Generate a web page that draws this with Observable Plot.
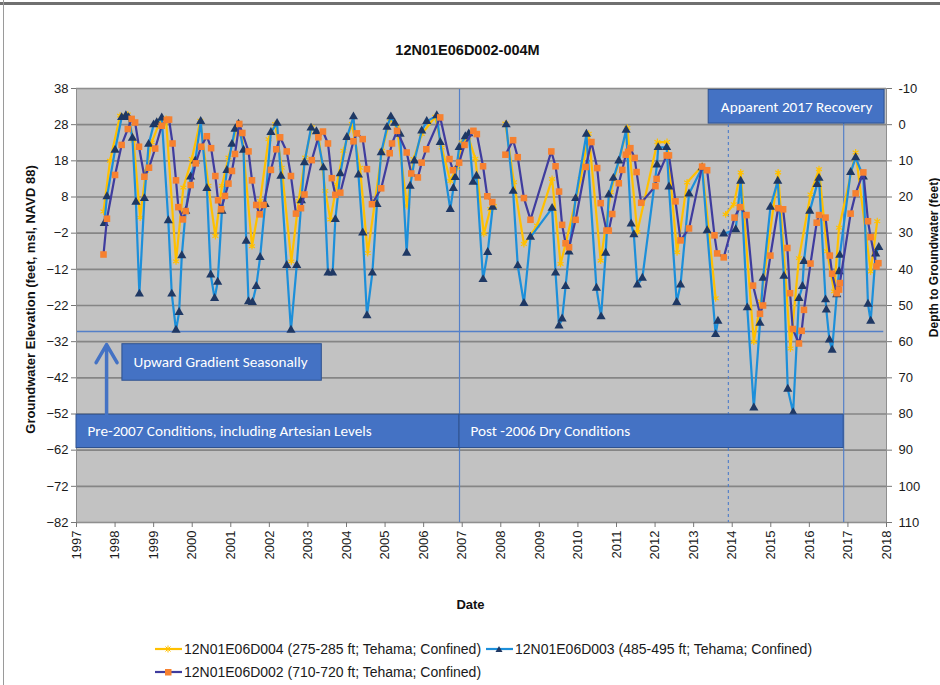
<!DOCTYPE html>
<html>
<head>
<meta charset="utf-8">
<script src="https://cdn.jsdelivr.net/npm/d3@7"></script>
<script src="https://cdn.jsdelivr.net/npm/@observablehq/plot@0.6"></script>
<style>
  html, body { margin: 0; padding: 0; background: #ffffff; }
  #page { position: relative; width: 940px; height: 685px; overflow: hidden; }
  #chart svg { display: block; }
  #legend { position: relative; width: 940px; height: 60px; font: 14px "Liberation Sans", Arial, sans-serif; color: #1a1a1a; }
  .item { position: absolute; display: flex; align-items: center; white-space: nowrap; height: 16px; }
  .item svg { margin-right: 2px; }
  .deco-top { position: absolute; left: 0; top: 2px; width: 940px; height: 3px; background: #707070; }
  .deco-left { position: absolute; left: 3px; top: 0; width: 1px; height: 685px; background: #9a9a9a; }
</style>
</head>
<body>
<div id="page">
  <div id="chart"></div>
  <div id="legend"></div>
  <div class="deco-top"></div>
  <div class="deco-left"></div>
</div>
<script>
// ---------- texts ----------
const title = "12N01E06D002-004M";
const yLabelLeft = "Groundwater Elevation (feet, msl, NAVD 88)";
const yLabelRight = "Depth to Groundwater (feet)";
const xLabel = "Date";
const seriesNames = [
  "12N01E06D004 (275-285 ft; Tehama; Confined)",
  "12N01E06D003 (485-495 ft; Tehama; Confined)",
  "12N01E06D002 (710-720 ft; Tehama; Confined)"
];

// ---------- ticks ----------
const yearTicks = [1997,1998,1999,2000,2001,2002,2003,2004,2005,2006,2007,2008,2009,2010,2011,2012,2013,2014,2015,2016,2017,2018];
const elevTicks = [-82,-72,-62,-52,-42,-32,-22,-12,-2,8,18,28,38];
const depthReference = 28; // depth to groundwater = 28 - elevation

// ---------- series: [decimal year, elevation ft]; NaN = data gap ----------
const d004 = [
  [1997.70,4],[1997.87,18],[1998.13,30.5],[1998.33,30.8],[1998.48,23.6],[1998.65,2.3],[1998.80,15.2],[1998.95,23.1],
  [1999.17,29.1],[1999.32,29.6],[1999.58,-9.8],[1999.77,10.6],[1999.99,18.5],[2000.21,29.1],[2000.42,11.1],[2000.60,-2.8],
  [2000.77,11.1],[2000.94,18.9],[2001.16,27.4],[2001.29,25.4],[2001.55,-5.6],[2001.76,6.9],[2001.98,24],[2002.15,28.2],
  [2002.32,16.1],[2002.57,-9.8],[2002.76,6.9],[2002.93,18.9],[2003.10,27.3],[2003.28,24.5],[2003.45,9.7],[2003.58,1.8],
  [2003.75,11.5],[2003.92,20.8],[2004.14,28.2],[2004.35,16.1],[2004.55,-7.5],[2004.74,6.9],[2004.92,20.8],[2005.13,29.6],
  [2005.31,27.3],[2005.57,5.5],[2005.74,18.5],[2005.95,25.4],[2006.30,30.2],[2006.47,21.7],[2006.69,12.4],[2006.86,16.1],
  [2006.99,23.1],[2007.16,24.5],[2007.34,18.6],[2007.56,-2.2],[2007.73,4.7],[2007.82,5.5],[2007.95,NaN],
  [2008.12,28.3],[2008.34,12.1],[2008.60,-5],[2008.94,0.1],[2009.33,13],[2009.55,-10.5],[2009.68,-5],[2010.07,13],
  [2010.28,25.5],[2010.59,-9.6],[2010.85,9.3],[2011.28,27.1],[2011.54,-1.7],[2012.06,23.2],[2012.31,23.2],[2012.57,-7.3],
  [2012.83,12],[2013.22,16.6],[2013.57,-20],[2013.70,NaN],
  [2013.83,3.2],[2014.04,6],[2014.22,14.8],[2014.56,-32],[2014.74,-20.9],[2015.19,14.8],[2015.51,-33.9],[2015.73,-8.9],
  [2016.03,8.7],[2016.25,15.7],[2016.46,-7],[2016.64,-18.1],[2016.77,-0.5],[2017.20,20.3],[2017.59,-12.6],[2017.76,1.3]
];
const d003 = [
  [1997.72,0.7],[1997.79,8.1],[1998.00,21],[1998.17,30],[1998.28,30.5],[1998.35,30],[1998.45,24.3],[1998.54,6.6],
  [1998.63,-18.8],[1998.76,7.6],[1998.87,22.6],[1999.00,28],[1999.08,28.6],[1999.21,29.9],[1999.38,1.5],[1999.47,-18.8],
  [1999.58,-28.8],[1999.66,-23.9],[1999.73,-8.2],[1999.83,4.1],[1999.96,13.6],[2000.08,18],[2000.22,28.9],[2000.38,10.4],
  [2000.48,-13.5],[2000.58,-20],[2000.66,-15.5],[2000.77,4.1],[2000.90,15.4],[2001.03,22.6],[2001.11,26.8],[2001.20,28.2],
  [2001.33,21],[2001.40,-4.2],[2001.46,-20.9],[2001.56,-21.1],[2001.66,-16.7],[2001.76,-8.7],[2001.89,6],[2002.04,25.9],
  [2002.20,28.4],[2002.30,13.8],[2002.45,-10.9],[2002.56,-28.8],[2002.71,-10.9],[2002.83,7],[2002.91,17.5],[2003.08,27.1],
  [2003.22,26.1],[2003.40,16.1],[2003.52,-13],[2003.64,-13],[2003.71,1.8],[2003.84,14.5],[2004.01,24.5],[2004.18,30.2],
  [2004.31,14.1],[2004.42,-1.9],[2004.53,-24.8],[2004.67,-13],[2004.79,6],[2004.90,20.3],[2005.05,27.3],[2005.15,30.2],
  [2005.25,28.4],[2005.39,25.4],[2005.56,-7.5],[2005.65,11],[2005.76,18],[2005.95,26.3],[2006.08,28.9],[2006.34,30.5],
  [2006.43,23.1],[2006.69,4.6],[2006.77,10.4],[2006.82,13.4],[2006.92,21.7],[2007.08,24.7],[2007.17,25.5],[2007.28,12.1],
  [2007.37,13.8],[2007.54,-14.8],[2007.66,-7.3],[2007.79,5.2],[2007.95,NaN],
  [2008.14,28],[2008.32,9.6],[2008.44,-11],[2008.60,-21.4],[2008.77,-3.1],[2009.33,4.9],[2009.42,-13],[2009.51,-27.6],
  [2009.59,-25.7],[2009.68,-16.7],[2009.77,-7.2],[2009.94,7.6],[2010.22,25.4],[2010.48,-17.2],[2010.60,-25.1],[2010.72,-7.5],
  [2010.80,8.6],[2010.92,13.2],[2011.06,18],[2011.25,26.5],[2011.38,0.6],[2011.45,-2.4],[2011.54,-16.3],[2011.67,-14.4],
  [2012.05,16.9],[2012.08,21.7],[2012.30,21.7],[2012.36,10.8],[2012.56,-21.1],[2012.66,-16.3],[2012.88,8.9],[2013.22,16.1],
  [2013.35,-1.3],[2013.57,-30],[2013.63,-26.3],[2013.70,NaN],
  [2013.78,-2.2],[2014.09,-1],[2014.22,12.4],[2014.39,-22.6],[2014.56,-50.3],[2014.72,-26.9],[2014.80,-14.4],[2014.99,5.2],
  [2015.18,12.4],[2015.34,-13.9],[2015.44,-45.1],[2015.58,-51.6],[2015.73,-20],[2015.82,-16.7],[2015.86,-9.8],[2016.01,4.1],
  [2016.20,11.5],[2016.25,13.2],[2016.42,-20.4],[2016.44,-23.2],[2016.52,-31.5],[2016.59,-34.3],[2016.71,-19],[2016.77,-12.6],
  [2016.79,-8.1],[2017.07,14.8],[2017.20,18.9],[2017.40,13.6],[2017.52,-21.6],[2017.59,-26.3],[2017.72,-7.7],[2017.80,-5.9]
];
const d002 = [
  [1997.70,-7.9],[1997.79,2],[1998.00,14.1],[1998.17,22.4],[1998.33,26.8],[1998.43,29.6],[1998.52,28.6],[1998.62,21.9],
  [1998.76,13.6],[1998.88,16.1],[1999.04,21.4],[1999.21,27.7],[1999.34,29.3],[1999.40,29.4],[1999.49,22.8],[1999.58,12.6],
  [1999.64,5.2],[1999.76,1.8],[1999.83,4.1],[1999.96,11.3],[2000.09,17.3],[2000.23,21.9],[2000.38,24.8],[2000.49,21.5],
  [2000.60,13.8],[2000.67,7.1],[2000.75,4.6],[2000.85,8.3],[2000.94,11.7],[2001.03,15.2],[2001.11,19.9],[2001.22,28.2],
  [2001.30,25.7],[2001.46,20.6],[2001.55,12.6],[2001.66,5.8],[2001.75,3.2],[2001.85,5.8],[2002.04,15.5],[2002.18,21.2],
  [2002.28,24.5],[2002.45,20.6],[2002.56,13.8],[2002.69,3.4],[2002.82,4.9],[2002.91,8.7],[2003.10,18.2],[2003.27,24.5],
  [2003.39,26.1],[2003.52,22.8],[2003.62,13.2],[2003.71,8.6],[2003.84,9.2],[2004.18,23.4],[2004.27,25.6],[2004.42,24],
  [2004.53,15.7],[2004.66,6],[2004.90,10.4],[2005.12,20.1],[2005.18,22.8],[2005.31,26.3],[2005.56,20.3],[2005.68,14.5],
  [2005.85,13.4],[2005.95,17.5],[2006.07,21.2],[2006.43,30],[2006.67,18.5],[2006.76,15.4],[2006.92,17.5],[2007.06,22.4],
  [2007.29,26.3],[2007.38,25.4],[2007.54,16.5],[2007.65,8.2],[2007.78,6.6],[2007.95,NaN],
  [2008.12,19.7],[2008.32,23.7],[2008.44,19],[2008.60,7.7],[2008.77,1.7],[2009.31,20.6],[2009.42,16.5],[2009.51,9.5],
  [2009.59,0.3],[2009.68,-4.8],[2009.77,-5.9],[2009.94,1.7],[2010.20,16.3],[2010.35,23.2],[2010.50,16],[2010.59,6.3],
  [2010.74,-1.3],[2010.80,-1.3],[2010.89,3.3],[2011.06,11.8],[2011.15,15.5],[2011.24,19.7],[2011.30,20.5],[2011.36,21.5],
  [2011.47,18.8],[2011.52,14.9],[2011.64,6.4],[2012.01,11],[2012.04,13],[2012.30,19.5],[2012.36,19.5],[2012.53,6.8],
  [2012.66,-4],[2012.88,-0.7],[2013.22,16.4],[2013.35,15.4],[2013.54,-2.6],[2013.61,-7.6],[2013.78,-8.7],[2014.06,2.3],
  [2014.20,5.2],[2014.37,3],[2014.54,-16.5],[2014.72,-24.3],[2014.80,-22],[2014.99,-8.2],[2015.19,4.9],[2015.32,4.6],
  [2015.43,-6.1],[2015.50,-18.6],[2015.57,-28.5],[2015.73,-32.5],[2015.80,-29],[2015.86,-23.2],[2016.03,-10.4],[2016.19,0.9],
  [2016.25,3],[2016.42,2.3],[2016.53,-8.2],[2016.59,-13.2],[2016.71,-18.6],[2016.77,-17.6],[2016.79,-15.8],[2017.07,3.4],
  [2017.20,9],[2017.40,14.8],[2017.52,1.3],[2017.59,-3.1],[2017.74,-11.2],[2017.79,-10.3]
];

// ---------- annotations (data coordinates) ----------
const periodLines = [
  {year: 2006.93, dashed: false},
  {year: 2013.90, dashed: true},
  {year: 2016.89, dashed: false}
];
const gradientLine = [{elev: -29.2, from: 1997, to: 2017.93}];
const startBoxes = [
  {label: "Upward Gradient Seasonally", x1: 1998.19, x2: 2003.36, y1: -32.7, y2: -42.8},
  {label: "Pre-2007 Conditions, including Artesian Levels", x1: 1997.0, x2: 2006.93, y1: -52.2, y2: -61.4},
  {label: "Post -2006 Dry Conditions", x1: 2006.93, x2: 2016.89, y1: -52.2, y2: -61.4}
];
const centerBoxes = [
  {label: "Apparent 2017 Recovery", x1: 2013.39, x2: 2017.95, y1: 37.6, y2: 28.3}
];
const gradientArrow = [{x: 1997.78, from: -52.2, to: -32.8}];

// ---------- colours ----------
const colYellow = "#FFC000";
const colBlue = "#1C8FDA";
const colNavy = "#1F3864";
const colPurple = "#3F3C9E";
const colOrange = "#F7812F";
const colBox = "#4472C4";
const colAnno = "#5580C8";

const toRows = arr => arr.map(([x, y]) => ({x, y}));
const r004 = toRows(d004), r003 = toRows(d003), r002 = toRows(d002);

const font = "Liberation Sans, Arial, sans-serif";
const boxFont = "Carlito, Lato, 'Open Sans', sans-serif";

const chart = Plot.plot({
  width: 940,
  height: 625,
  marginTop: 88,
  marginLeft: 76,
  marginRight: 54,
  marginBottom: 103,
  style: {fontFamily: font, fontSize: "13px", color: "#1a1a1a", background: "transparent"},
  x: {domain: [1997, 2018], type: "linear"},
  y: {domain: [-82, 38], type: "linear"},
  marks: [
    Plot.frame({fill: "#c2c2c2", stroke: null}),
    Plot.gridY(elevTicks, {stroke: "#858585", strokeOpacity: 1, strokeWidth: 1.6}),
    Plot.ruleX(periodLines.filter(d => !d.dashed), {x: "year", stroke: colAnno, strokeWidth: 1.2}),
    Plot.ruleX(periodLines.filter(d => d.dashed), {x: "year", stroke: colAnno, strokeWidth: 1.2, strokeDasharray: "3,3"}),
    Plot.ruleY(gradientLine, {y: "elev", x1: "from", x2: "to", stroke: colAnno, strokeWidth: 1.5}),
    Plot.frame({stroke: "#8f8f8f", strokeWidth: 1}),
    // D004
    Plot.line(r004, {x: "x", y: "y", stroke: colYellow, strokeWidth: 2.2}),
    Plot.dot(r004, {x: "x", y: "y", symbol: "asterisk", r: 3.2, stroke: colYellow, strokeWidth: 1.2}),
    // D003
    Plot.line(r003, {x: "x", y: "y", stroke: colBlue, strokeWidth: 2.2}),
    Plot.dot(r003, {x: "x", y: "y", symbol: "triangle", r: 3.4, fill: colNavy, stroke: null}),
    // D002
    Plot.line(r002, {x: "x", y: "y", stroke: colPurple, strokeWidth: 2.2}),
    Plot.dot(r002, {x: "x", y: "y", symbol: "square", r: 3.7, fill: colOrange, stroke: null}),
    // annotation boxes
    Plot.rect(startBoxes.concat(centerBoxes), {x1: "x1", x2: "x2", y1: "y1", y2: "y2", fill: colBox, stroke: "#2F528F", strokeWidth: 1}),
    Plot.text(startBoxes, {x: "x1", y: d => (d.y1 + d.y2) / 2, text: "label", textAnchor: "start", dx: 11, fill: "white", fontSize: 15.2, fontFamily: boxFont}),
    Plot.text(centerBoxes, {x: d => (d.x1 + d.x2) / 2, y: d => (d.y1 + d.y2) / 2, text: "label", fill: "white", fontSize: 15.2, fontFamily: boxFont}),
    Plot.arrow(gradientArrow, {x1: "x", x2: "x", y1: "from", y2: "to", stroke: colBox, strokeWidth: 3.5, headLength: 9}),
    // axes
    Plot.axisY(elevTicks, {anchor: "left", tickSize: 5, tickPadding: 3, label: null, fontSize: 13, stroke: "#777"}),
    Plot.axisY(elevTicks, {anchor: "right", tickSize: 5, tickPadding: 7, label: null, fontSize: 13, stroke: "#777", tickFormat: d => String(depthReference - d)}),
    Plot.axisX(yearTicks, {anchor: "bottom", tickSize: 5, tickPadding: 3, tickRotate: -90, label: null, fontSize: 13, stroke: "#777", tickFormat: d => String(d)}),
    // titles
    Plot.text([title], {frameAnchor: "top", lineAnchor: "middle", textAnchor: "middle", dy: -38, dx: -14, fontWeight: "bold", fontSize: 14.5, fill: "#111"}),
    Plot.text([yLabelLeft], {frameAnchor: "left", textAnchor: "middle", lineAnchor: "middle", dx: -46, dy: -6, rotate: -90, fontWeight: "bold", fontSize: 13, fill: "#111"}),
    Plot.text([yLabelRight], {frameAnchor: "right", textAnchor: "middle", lineAnchor: "middle", dx: 48, dy: -48, rotate: -90, fontWeight: "bold", fontSize: 12, fill: "#111"}),
    Plot.text([xLabel], {frameAnchor: "bottom", textAnchor: "middle", lineAnchor: "middle", dy: 82, dx: -11, fontWeight: "bold", fontSize: 13, fill: "#111"})
  ]
});
document.getElementById("chart").appendChild(chart);

// ---------- legend ----------
const legendItems = [
  {name: seriesNames[0], line: colYellow, marker: "star", markerColor: colYellow, left: 155, top: 16},
  {name: seriesNames[1], line: colBlue, marker: "triangle", markerColor: colNavy, left: 486, top: 16},
  {name: seriesNames[2], line: colPurple, marker: "square", markerColor: colOrange, left: 155, top: 39}
];
const legend = document.getElementById("legend");
for (const it of legendItems) {
  const div = document.createElement("div");
  div.className = "item";
  div.style.left = it.left + "px";
  div.style.top = it.top + "px";
  let m = "";
  if (it.marker === "star") {
    m = `<path d="M10.5,3.5 L15.5,8.5 M15.5,3.5 L10.5,8.5 M13,2.5 L13,9.5" stroke="${it.markerColor}" stroke-width="1"/>`;
  } else if (it.marker === "triangle") {
    m = `<path d="M13,3 L16.5,9 L9.5,9 Z" fill="${it.markerColor}"/>`;
  } else {
    m = `<rect x="10" y="3" width="6.5" height="6.5" fill="${it.markerColor}"/>`;
  }
  div.innerHTML = `<svg width="27" height="12" viewBox="0 0 27 12"><line x1="0" y1="6" x2="27" y2="6" stroke="${it.line}" stroke-width="2.2"/>${m}</svg><span>${it.name}</span>`;
  legend.appendChild(div);
}
</script>
</body>
</html>
